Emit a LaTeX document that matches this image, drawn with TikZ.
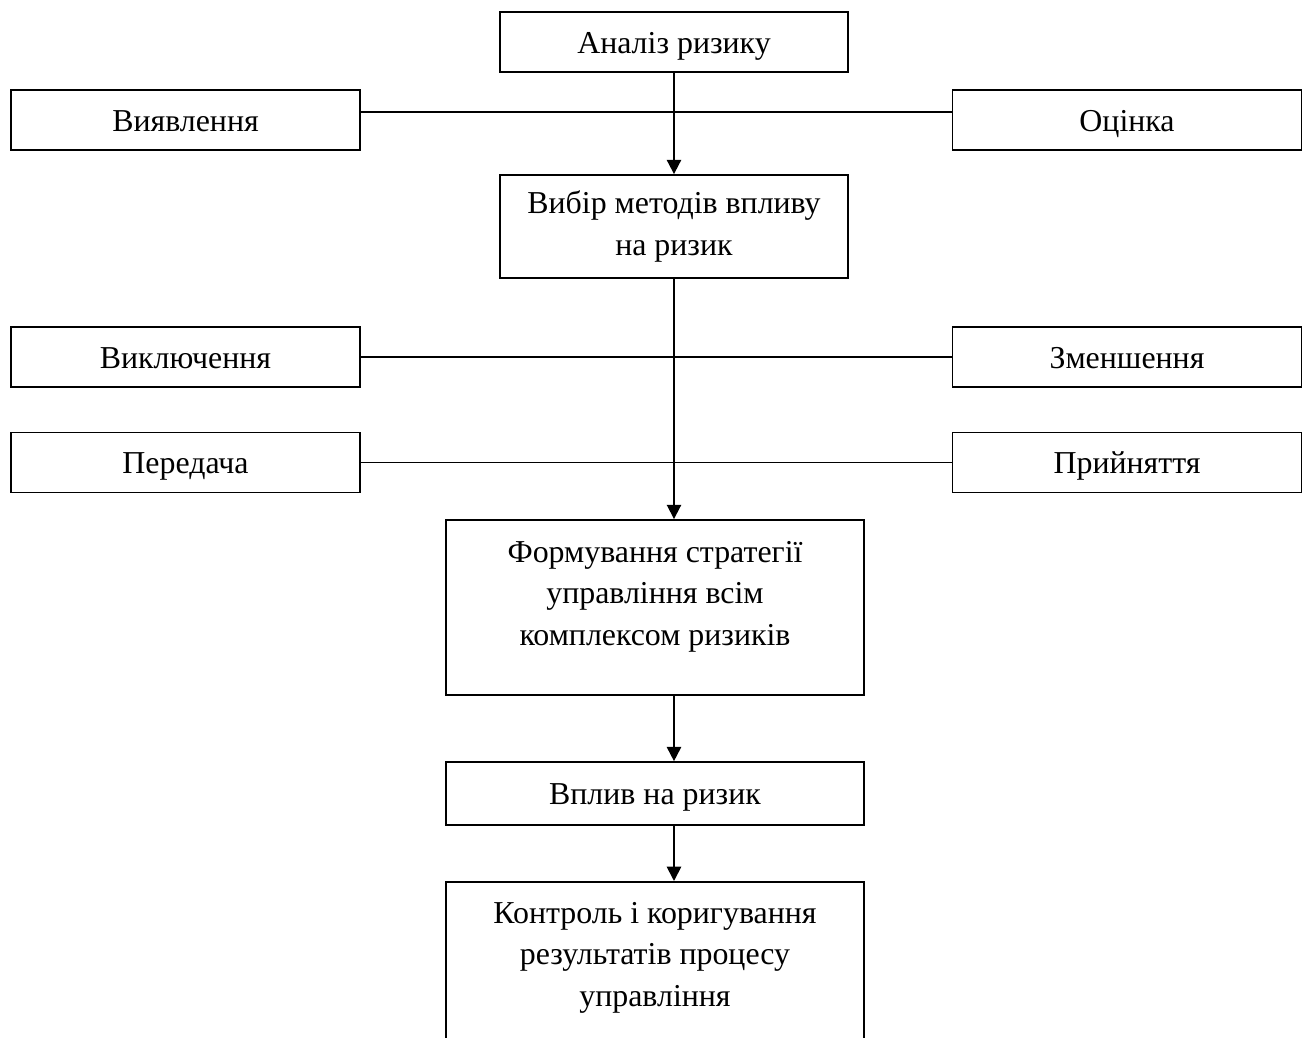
\documentclass[tikz,border=0pt]{standalone}
\usepackage{fontspec}
\setmainfont{Liberation Serif}
\usepackage{tikz}
\usetikzlibrary{arrows.meta}

\begin{document}
\begin{tikzpicture}[x=0.0172cm, y=-0.0172cm, line width=0.9pt,
  font=\fontsize{15.6}{20.5}\selectfont,
  box/.style = {draw, align=center, inner sep=0pt, minimum height=1.03cm},
  one/.style = {text height=13pt, text depth=2pt},
  side/.style = {box, one, minimum width=6cm},
  mid/.style = {box, minimum width=5.99cm},
  wide/.style = {box, minimum width=7.19cm},
  txt/.style = {align=center, inner sep=0pt, anchor=north},
  arr/.style = {-{Triangle[width=7pt,length=7pt]}}]
\useasboundingbox (0,0) rectangle (1308,1038);
\clip (0,0) rectangle (1308,1038);
\node[mid, one] (analiz) at (674,42) {Аналіз ризику};
\node[side] (vyiav) at (185.5,120) {Виявлення};
\node[side] (otsinka) at (1127,120) {Оцінка};
\node[mid, minimum height=1.77cm] (vybir) at (674,226.5) {Вибір методів впливу\\на ризик};
\node[side] (vykl) at (185.5,357) {Виключення};
\node[side] (zmen) at (1127,357) {Зменшення};
\node[side] (pered) at (185.5,462.5) {Передача};
\node[side] (pryin) at (1127,462.5) {Прийняття};
\node[wide, minimum height=3.01cm] (form) at (655,607.5) {};
\node[txt] (formtxt) at (655,540) {Формування стратегії\\управління всім\\комплексом ризиків};
\node[wide, one, minimum height=1.08cm] (vplyv) at (655,793.5) {Вплив на ризик};
\node[wide, minimum height=3.01cm, anchor=north] (kontr) at (655,881) {};
\node[txt] (kontrtxt) at (655,901) {Контроль і коригування\\результатів процесу\\управління};
\draw ([yshift=0.14cm]vyiav.east) -- ([yshift=0.14cm]otsinka.west);
\draw (vykl.east) -- (zmen.west);
\draw (pered.east) -- (pryin.west);
\draw[arr] (analiz) -- (vybir);
\draw[arr] (vybir.south) -- (vybir.south |- form.north);
\draw[arr] (vybir.south |- form.south) -- (vybir.south |- vplyv.north);
\draw[arr] (vybir.south |- vplyv.south) -- (vybir.south |- kontr.north);
\end{tikzpicture}
\end{document}
